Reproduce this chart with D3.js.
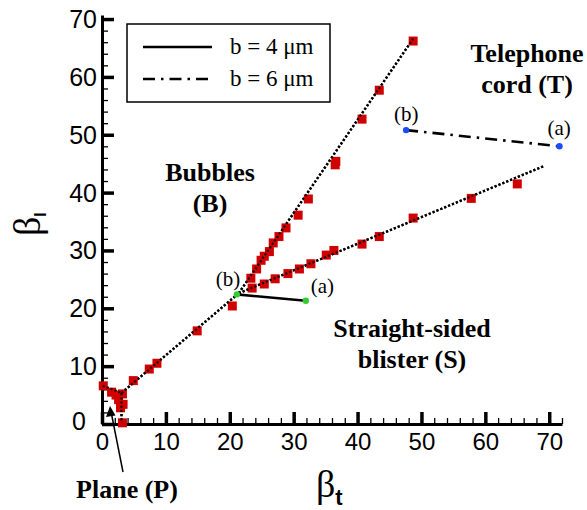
<!DOCTYPE html>
<html>
<head>
<meta charset="utf-8">
<script src="https://cdn.jsdelivr.net/npm/d3@7"></script>
<style>
  html, body { margin: 0; padding: 0; background: #fff; }
  svg { display: block; }
</style>
</head>
<body>
<svg id="chart" width="587" height="510"></svg>
<script>
// ---------------- data ----------------
const xTicks = [0, 10, 20, 30, 40, 50, 60, 70];
const yTicks = [0, 10, 20, 30, 40, 50, 60, 70];

// red squares: plane region
const planePts = [
  [0.2, 6.6], [1.5, 5.5], [2.2, 5.0], [2.6, 4.2], [3.2, 5.2],
  [3.3, 3.4], [2.9, 2.8], [3.2, 0.2]
];
// red squares: lower segment leading to the junction
const lowerSegPts = [
  [4.9, 7.5], [7.4, 9.5], [8.6, 10.5], [14.9, 16.1], [20.4, 20.4]
];
// red squares: upper branch (bubbles / telephone boundary)
const upperBranchPts = [
  [23.3, 25.2], [24.2, 26.8], [24.9, 28.3], [25.4, 29.0], [26.2, 29.8],
  [26.8, 31.3], [27.7, 32.4], [28.8, 33.9], [30.7, 36.1], [32.3, 38.9],
  [36.5, 44.8], [36.6, 45.4], [40.7, 52.7], [43.4, 57.7], [48.7, 66.2]
];
// red squares: lower branch (straight-sided / telephone boundary)
const lowerBranchPts = [
  [23.5, 23.5], [25.4, 24.2], [27.1, 25.1], [29.1, 26.0], [30.9, 26.8],
  [32.7, 27.7], [35.1, 29.2], [36.3, 30.0], [40.7, 31.1], [43.4, 32.4],
  [48.7, 35.6], [57.8, 39.0], [65.0, 41.5]
];

// dotted boundary lines
const boundaryLines = [
  [[0.1, 6.6], [3.05, 5.36]],
  [[3.05, 5.36], [3.05, 0.2]],
  [[3.05, 5.36], [21.4, 22.6]],
  [[21.4, 22.6], [48.7, 66.6]],
  [[21.4, 22.6], [69.2, 44.6]]
];

// paths for b = 4 um (green) and b = 6 um (blue)
const b4Path = [[21.1, 22.4], [31.9, 21.3]];
const b6Path = [[47.6, 50.8], [71.6, 48.0]];
const b4Labels = ["(b)", "(a)"];
const b6Labels = ["(b)", "(a)"];
const legendLabels = ["b = 4 \u03bcm", "b = 6 \u03bcm"];

// ---------------- drawing ----------------
const svg = d3.select("#chart");
const x = d3.scaleLinear().domain([0, 72]).range([102, 562]);
const y = d3.scaleLinear().domain([0, 70.7]).range([424, 15]);

const serif = "'Liberation Serif', 'Times New Roman', serif";
const sans = "'Liberation Sans', Arial, sans-serif";

// minor ticks
const minorX = d3.range(0, 72.01, 2).filter(v => v % 10 !== 0);
const minorY = d3.range(0, 70.01, 2).filter(v => v % 10 !== 0);

const gxMinor = svg.append("g").attr("transform", `translate(0,${y(0)})`)
  .call(d3.axisBottom(x).tickValues(minorX).tickSizeInner(-6).tickSizeOuter(0).tickFormat(""));
gxMinor.select(".domain").remove();
gxMinor.selectAll("line").attr("stroke", "#000").attr("stroke-width", 1.3);

const gyMinor = svg.append("g").attr("transform", `translate(${x(0)},0)`)
  .call(d3.axisLeft(y).tickValues(minorY).tickSizeInner(-6).tickSizeOuter(0).tickFormat(""));
gyMinor.select(".domain").remove();
gyMinor.selectAll("line").attr("stroke", "#000").attr("stroke-width", 1.3);

// major axes
const gx = svg.append("g").attr("transform", `translate(0,${y(0)})`)
  .call(d3.axisBottom(x).tickValues(xTicks).tickSizeInner(-12).tickSizeOuter(0).tickPadding(10));
gx.select(".domain").attr("stroke", "#000").attr("stroke-width", 3);
gx.selectAll(".tick line").attr("stroke", "#000").attr("stroke-width", 3.5);
gx.selectAll(".tick text").attr("font-family", sans).attr("font-size", 24).attr("fill", "#000")
  .attr("y", 9).attr("dy", "0.71em");

const gy = svg.append("g").attr("transform", `translate(${x(0)},0)`)
  .call(d3.axisLeft(y).tickValues(yTicks).tickSizeInner(-12).tickSizeOuter(0).tickPadding(5));
gy.select(".domain").attr("stroke", "#000").attr("stroke-width", 3);
gy.selectAll(".tick line").attr("stroke", "#000").attr("stroke-width", 3.5);
gy.selectAll(".tick text").attr("font-family", sans).attr("font-size", 25).attr("fill", "#000")
  .attr("x", d => d === 0 ? -16 : -5).attr("dy", d => d === 0 ? "0.2em" : "0.34em");

// dotted boundary lines
const line = d3.line().x(d => x(d[0])).y(d => y(d[1]));
svg.append("g").selectAll("path").data(boundaryLines).join("path")
  .attr("d", line).attr("fill", "none").attr("stroke", "#000")
  .attr("stroke-width", 2.4).attr("stroke-dasharray", "2.2,2");

// red squares
const sq = 9;
const allSquares = planePts.concat(lowerSegPts, upperBranchPts, lowerBranchPts);
svg.append("g").selectAll("rect").data(allSquares).join("rect")
  .attr("x", d => x(d[0]) - sq / 2).attr("y", d => y(d[1]) - sq / 2)
  .attr("width", sq).attr("height", sq).attr("fill", "#d10000");

// redraw dots on top lightly (the dotted line is visible over squares)
svg.append("g").selectAll("path").data(boundaryLines).join("path")
  .attr("d", line).attr("fill", "none").attr("stroke", "#000")
  .attr("stroke-width", 2.2).attr("stroke-dasharray", "2.2,2").attr("opacity", 0.85);

// b = 4 path (solid) and b = 6 path (dash-dot)
svg.append("path").datum(b4Path).attr("d", line).attr("fill", "none")
  .attr("stroke", "#000").attr("stroke-width", 2.6);
svg.append("path").datum(b6Path).attr("d", line).attr("fill", "none")
  .attr("stroke", "#000").attr("stroke-width", 2.6).attr("stroke-dasharray", "12,6,2.5,6");

svg.append("g").selectAll("circle").data(b4Path).join("circle")
  .attr("cx", d => x(d[0])).attr("cy", d => y(d[1])).attr("r", 3.2).attr("fill", "#33cc33");
svg.append("g").selectAll("circle").data(b6Path).join("circle")
  .attr("cx", d => x(d[0])).attr("cy", d => y(d[1])).attr("r", 3.2).attr("fill", "#1a4cff");

// (a)/(b) labels
const ptLabelOffsets4 = [[-21, -8], [5, -8]];
const ptLabelOffsets6 = [[-12, -9], [-12, -11]];
svg.append("g").selectAll("text").data(b4Path).join("text")
  .attr("x", (d, i) => x(d[0]) + ptLabelOffsets4[i][0])
  .attr("y", (d, i) => y(d[1]) + ptLabelOffsets4[i][1])
  .attr("font-family", serif).attr("font-size", 21).text((d, i) => b4Labels[i]);
svg.append("g").selectAll("text").data(b6Path).join("text")
  .attr("x", (d, i) => x(d[0]) + ptLabelOffsets6[i][0])
  .attr("y", (d, i) => y(d[1]) + ptLabelOffsets6[i][1])
  .attr("font-family", serif).attr("font-size", 21).text((d, i) => b6Labels[i]);

// legend
const lg = svg.append("g");
lg.append("rect").attr("x", 127).attr("y", 24).attr("width", 203).attr("height", 78)
  .attr("fill", "#fff").attr("stroke", "#000").attr("stroke-width", 1.5);
const legendDash = [null, "12,6,2.5,6"];
legendLabels.forEach((lab, i) => {
  const ly = 47 + i * 32;
  lg.append("line").attr("x1", 143).attr("x2", 212).attr("y1", ly).attr("y2", ly)
    .attr("stroke", "#000").attr("stroke-width", 2.6)
    .attr("stroke-dasharray", legendDash[i]);
  lg.append("text").attr("x", 230).attr("y", ly + 7).attr("font-family", serif)
    .attr("font-size", 23).text(lab);
});

// region labels
const regionLabels = [
  { lines: ["Bubbles", "(B)"], cx: 210, y0: 181 },
  { lines: ["Telephone", "cord (T)"], cx: 527, y0: 62 },
  { lines: ["Straight-sided", "blister (S)"], cx: 412, y0: 337 },
  { lines: ["Plane (P)"], cx: 127, y0: 498 }
];
regionLabels.forEach(r => {
  r.lines.forEach((t, i) => {
    svg.append("text").attr("x", r.cx).attr("y", r.y0 + i * 31)
      .attr("text-anchor", "middle").attr("font-family", serif)
      .attr("font-weight", "bold").attr("font-size", 26).text(t);
  });
});

// arrow to plane region
svg.append("line").attr("x1", 123).attr("y1", 472).attr("x2", 111.5).attr("y2", 414)
  .attr("stroke", "#000").attr("stroke-width", 1.5);
svg.append("path").attr("d", "M110,406 L106,417 L115.5,415.5 Z").attr("fill", "#000");

// axis titles
const xt = svg.append("text").attr("x", 316).attr("y", 497).attr("font-family", serif)
  .attr("font-size", 38);
xt.append("tspan").text("\u03b2");
xt.append("tspan").attr("font-family", sans).attr("font-weight", "bold")
  .attr("font-size", 22).attr("dy", 8).text("t");

const yt = svg.append("text").attr("transform", "translate(40,236) rotate(-90)")
  .attr("font-family", serif).attr("font-size", 38);
yt.append("tspan").text("\u03b2");
yt.append("tspan").attr("font-family", sans).attr("font-weight", "bold")
  .attr("font-size", 16).attr("dy", 6).text("I");
</script>
</body>
</html>
